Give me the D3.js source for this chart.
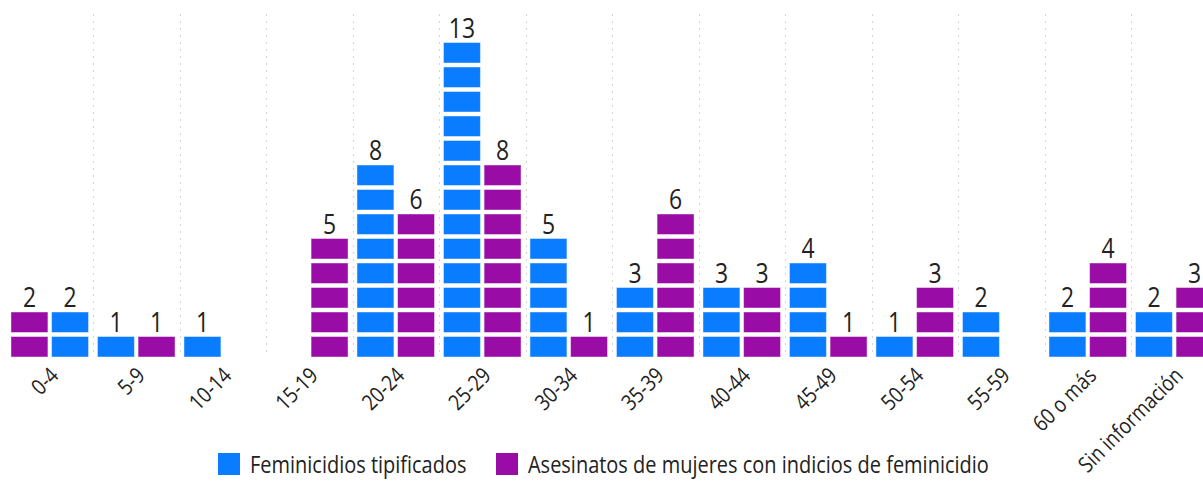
<!DOCTYPE html>
<html>
<head>
<meta charset="utf-8">
<script src="https://cdn.jsdelivr.net/npm/d3@7"></script>
<style>
	body { margin: 0; background: #fff; }
	svg text { font-family: "Open Sans", "Noto Sans", sans-serif; fill: #222; }
</style>
</head>
<body>
<svg id="viz"></svg>
<script>
/* data */
var categories = ["0-4", "5-9", "10-14", "15-19", "20-24", "25-29", "30-34",
	"35-39", "40-44", "45-49", "50-54", "55-59", "60 o más", "Sin información"];
var tipificados = [2, 1, 1, 0, 8, 13, 5, 3, 3, 4, 1, 2, 2, 2];
var indicios = [2, 1, 0, 5, 6, 8, 1, 6, 3, 1, 3, 0, 4, 3];
var seriesNames = ["Feminicidios tipificados", "Asesinatos de mujeres con indicios de feminicidio"];
var seriesKeys = ["tip", "ind"];
var colors = { tip: "#0a7cff", ind: "#990ca6" };
// in the first group the purple column comes first
var swapped = ["0-4"];

/* create svg */
var width = 1203, height = 481;
var squeeze = 0.85; // the original font is a condensed face

var svg = d3.select('#viz')
	.attr('width', width)
	.attr('height', height);

var x = d3.scaleBand()
	.domain(categories)
	.range([6.5, 6.5 + 86.5 * categories.length]);

var x1 = d3.scaleBand()
	.domain([0, 1])
	.range([0, x.bandwidth()])
	.paddingInner(0.09)
	.paddingOuter(0.11);

var y = d3.scaleLinear()
	.domain([0, 13])
	.range([357, 357 - 13 * 24.5]);

var gap = 4;

/* dotted separators between groups */
svg.append("g")
	.selectAll("line")
	.data(categories.slice(1))
	.enter().append("line")
	.attr("x1", function(d){ return Math.round(x(d)) + 0.5; })
	.attr("x2", function(d){ return Math.round(x(d)) + 0.5; })
	.attr("y1", 14)
	.attr("y2", y(0))
	.attr("stroke", "#d4d4d4")
	.attr("stroke-width", 1)
	.attr("stroke-dasharray", "2,5");

var rows = categories.map(function(c, i){
	var order = swapped.indexOf(c) >= 0 ? ["ind", "tip"] : ["tip", "ind"];
	var vals = { tip: tipificados[i], ind: indicios[i] };
	return order.map(function(k, slot){
		return { cat: c, key: k, slot: slot, value: vals[k] };
	});
});

var cols = svg.append("g")
	.selectAll("g")
	.data(d3.merge(rows))
	.enter().append("g")
	.attr("transform", function(d){
		return "translate(" + (x(d.cat) + x1(d.slot)) + ",0)";
	});

cols.selectAll("rect")
	.data(function(d){
		return d3.range(d.value).map(function(i){ return { key: d.key, i: i }; });
	})
	.enter().append("rect")
	.attr("x", 0)
	.attr("width", x1.bandwidth())
	.attr("y", function(d){ return y(d.i + 1) + gap; })
	.attr("height", function(d){ return y(d.i) - y(d.i + 1) - gap; })
	.attr("fill", function(d){ return colors[d.key]; })
	.attr("stroke", "rgba(255,255,255,0.45)")
	.attr("stroke-width", 1);

cols.filter(function(d){ return d.value > 0; })
	.append("text")
	.attr("transform", function(d){
		return "translate(" + (x1.bandwidth() / 2) + "," + (y(d.value) - 1) + ") scale(" + squeeze + ",1)";
	})
	.attr("text-anchor", "middle")
	.style("font-size", "27px")
	.text(function(d){ return d.value; });

/* rotated category labels */
svg.append("g")
	.selectAll("text")
	.data(categories)
	.enter().append("text")
	.attr("transform", function(d){
		return "translate(" + (x(d) + x.bandwidth() / 2 + 10) + ",377) rotate(-45) scale(" + squeeze + ",1)";
	})
	.attr("text-anchor", "end")
	.style("font-size", "22px")
	.text(function(d){ return d; });

/* legend */
var legend = svg.append("g")
	.attr("transform", "translate(218,453)");

var legendX = [0, 278];
var items = legend.selectAll("g")
	.data(seriesKeys)
	.enter().append("g")
	.attr("transform", function(d, i){ return "translate(" + legendX[i] + ",0)"; });

items.append("rect")
	.attr("width", 22)
	.attr("height", 22)
	.attr("fill", function(d){ return colors[d]; });

items.append("text")
	.attr("transform", "translate(32,20) scale(" + squeeze + ",1)")
	.style("font-size", "23.5px")
	.text(function(d, i){ return seriesNames[i]; });
</script>
</body>
</html>
